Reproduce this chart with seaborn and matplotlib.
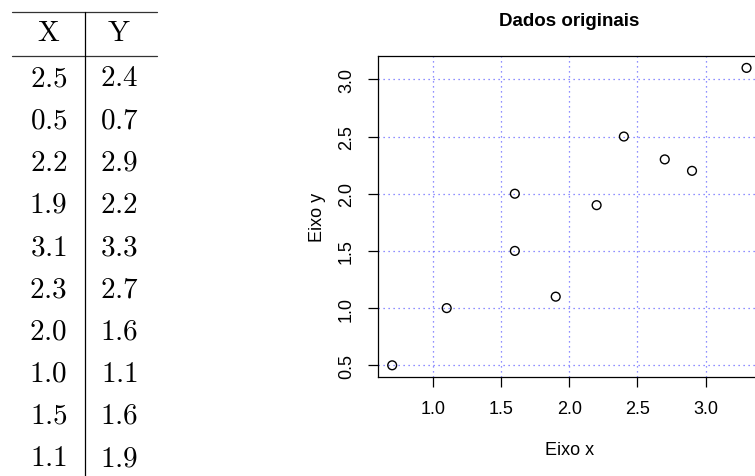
import matplotlib
matplotlib.use('Agg')
from matplotlib import pyplot as plt
import seaborn as sns
import pandas as pd

# table columns (left) -- scatter uses Y on the x axis and X on the y axis
col_x = [2.5, 0.5, 2.2, 1.9, 3.1, 2.3, 2.0, 1.0, 1.5, 1.1]
col_y = [2.4, 0.7, 2.9, 2.2, 3.3, 2.7, 1.6, 1.1, 1.6, 1.9]
headers = ['X', 'Y']
xticks = [1.0, 1.5, 2.0, 2.5, 3.0]
yticks = [0.5, 1.0, 1.5, 2.0, 2.5, 3.0]

sns.set_style('white')
plt.rcParams['font.family'] = ['Liberation Sans', 'DejaVu Sans']
plt.rcParams['mathtext.fontset'] = 'cm'
plt.rcParams['text.color'] = 'black'
plt.rcParams['axes.labelcolor'] = 'black'
plt.rcParams['xtick.color'] = 'black'
plt.rcParams['ytick.color'] = 'black'

fig = plt.figure(figsize=(7.55, 4.77), dpi=100)

# --- table ---
tab = fig.add_axes([12.3 / 755, 0, 144.4 / 755, 1])
tab.set_xlim(0, 2)
tab.set_ylim(9.448, -1.855)
tab.axis('off')
cols = [0.5, 1.48]
for c, h in zip(cols, headers):
    tab.text(c, -1.07, r'$\mathrm{%s}$' % h, ha='center', va='center', fontsize=21)
for i, (a, b) in enumerate(zip(col_x, col_y)):
    tab.text(cols[0], i, '$%.1f$' % a, ha='center', va='center', fontsize=21)
    tab.text(cols[1], i, '$%.1f$' % b, ha='center', va='center', fontsize=21)
tab.plot([0, 2], [-1.54, -1.54], color='#333333', lw=0.9, clip_on=False)
tab.plot([0, 2], [-0.51, -0.51], color='#333333', lw=0.9, clip_on=False)
tab.plot([1.007, 1.007], [-1.54, 9.448], color='black', lw=0.9, clip_on=False)

# --- scatter ---
df = pd.DataFrame({'x': col_y, 'y': col_x})
ax = fig.add_axes([378 / 755, 1 - 378.2 / 477, 382.7 / 755, 321.2 / 477])
sns.scatterplot(data=df, x='x', y='y', ax=ax, marker='o', s=40,
                facecolor='none', edgecolor='black', linewidth=1.0, zorder=3)
ax.set_xlim(0.596, 3.404)
ax.set_ylim(0.396, 3.204)
ax.set_xticks(xticks, ['%.1f' % t for t in xticks])
ax.set_yticks(yticks, ['%.1f' % t for t in yticks])
ax.grid(True, color='#6a6aff', linestyle=(0, (1, 3)), lw=0.9)
ax.tick_params(axis='both', length=7.5, width=0.9, color='black', labelsize=13,
               labelcolor='black', pad=9, bottom=True, left=True, direction='out')
ax.tick_params(axis='y', labelrotation=90)
for lb in ax.get_yticklabels():
    lb.set_va('center')
for side in ['left', 'top', 'bottom']:
    ax.spines[side].set_color('black')
    ax.spines[side].set_linewidth(0.9)
ax.spines['right'].set_visible(False)
ax.set_xlabel('Eixo x', fontsize=13, labelpad=17)
ax.set_ylabel('Eixo y', fontsize=13, labelpad=9)
ax.set_title('Dados originais', fontsize=13.5, fontweight='bold', pad=22)

plt.savefig('out.png', dpi=100)
